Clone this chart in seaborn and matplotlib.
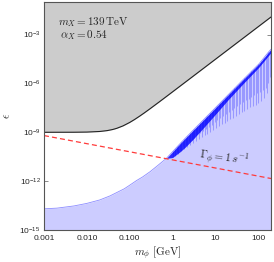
import numpy as np
import pandas as pd
import matplotlib
matplotlib.use("Agg")
import matplotlib.pyplot as plt
import seaborn as sns
from matplotlib.ticker import FixedLocator, FixedFormatter, LogLocator, NullLocator, NullFormatter

# ---- data ----
excl_m = [0.001, 0.005, 0.01, 0.02, 0.03, 0.04, 0.05, 0.07, 0.1, 0.13, 0.17, 0.22, 0.3,
          0.5, 0.7, 1.0, 3.0, 10.0, 100.0, 200.0]
excl_eps = [1.0e-9, 1.007e-9, 1.03e-9, 1.12e-9, 1.27e-9, 1.48e-9, 1.75e-9, 2.47e-9, 4.0e-9,
            6.07e-9, 9.67e-9, 1.55e-8, 2.8e-8, 7.6e-8, 1.48e-7, 3.01e-7, 2.7e-6, 3.0e-5,
            3.0e-3, 1.2e-2]

blue_m = [0.001, 0.002, 0.005, 0.01, 0.02, 0.035, 0.05, 0.075, 0.1, 0.146, 0.2, 0.3, 0.45,
          0.72, 1.0, 1.5, 2.0, 3.0, 10.4, 43.0, 105.0, 174.0, 200.0]
blue_eps = [2.0e-14, 2.2e-14, 3.0e-14, 4.3e-14, 7.0e-14, 1.25e-13, 2.0e-13, 3.4e-13, 5.6e-13,
            1.1e-12, 1.8e-12, 3.8e-12, 9.0e-12, 2.5e-11, 6.3e-11, 2.0e-10, 4.4e-10, 1.3e-9,
            3.5e-8, 1.55e-6, 1.6e-5, 8.3e-5, 1.25e-4]

band_m = [0.72, 1.0, 1.5, 2.0, 3.0, 5.0, 10.4, 20.0, 43.0, 105.0, 200.0]
band_depth = [0.0, 0.35, 0.5, 0.55, 0.55, 0.5, 0.4, 0.3, 0.25, 0.2, 0.2]

spike_m = [1.05, 1.15, 1.25, 1.35, 1.48, 1.6, 1.75, 1.9, 2.05, 2.2, 2.4, 2.6, 2.8, 3.0,
           3.25, 3.5, 3.8, 4.1, 4.4, 4.8, 5.2, 5.6, 6.0, 6.5, 7.0, 7.6, 8.2, 8.9, 9.6,
           10.4, 11.2, 12.1, 13.1, 14.2, 15.3, 16.5, 17.8, 19.2, 20.7, 22.3, 24.0, 26.0,
           28.0, 30.2, 32.6, 35.2, 38.0, 41.0, 44.2, 47.7, 51.5, 55.6, 60.0, 64.7, 69.8,
           75.3, 81.3, 87.7, 94.6, 102.0, 110.0, 119.0, 128.0, 138.0, 149.0, 161.0, 174.0, 188.0]
spike_depth = [0.35, 0.45, 0.3, 0.5, 0.4, 0.55, 0.35, 0.6, 0.45, 0.65, 0.4, 0.7, 0.5, 0.75,
               0.55, 0.8, 0.5, 0.9, 0.6, 0.95, 0.65, 1.0, 0.7, 1.1, 0.75, 1.15, 0.8, 1.2, 0.85,
               1.3, 0.9, 1.35, 0.95, 1.4, 1.0, 1.5, 1.05, 1.55, 1.1, 1.6, 1.15, 1.7,
               1.2, 1.75, 1.25, 1.85, 1.3, 1.9, 1.35, 2.0, 1.4, 2.05, 1.5, 2.1, 1.55,
               2.2, 1.6, 2.3, 1.7, 2.4, 1.8, 2.45, 1.9, 2.5, 2.0, 2.4, 1.9, 1.6]

life_m = [0.001, 200.0]
life_eps = [6.3e-10, 1.45e-12]

xticks = [0.001, 0.01, 0.1, 1, 10, 100]
xticklabels = ["0.001", "0.010", "0.100", "1", "10", "100"]
yticks = [1e-15, 1e-12, 1e-9, 1e-6, 1e-3]
yticklabels = [r"$10^{-15}$", r"$10^{-12}$", r"$10^{-9}$", r"$10^{-6}$", r"$10^{-3}$"]

# ---- style ----
sns.set_theme(style="ticks")
plt.rcParams.update({
    "font.family": ["Liberation Sans", "DejaVu Sans"],
    "mathtext.fontset": "custom",
    "mathtext.rm": "Liberation Sans",
    "mathtext.it": "Liberation Sans:italic",
    "mathtext.bf": "Liberation Sans:bold",
})

fig = plt.figure(figsize=(2.74, 2.62), dpi=100)
ax = fig.add_axes([44 / 274, 1 - 230 / 262, 227 / 274, 228 / 262])
ax.set_xscale("log")
ax.set_yscale("log")
ax.set_xlim(0.001, 200)
ax.set_ylim(1e-15, 1e-1)

# excluded (grey) region
ax.fill_between(excl_m, excl_eps, 1e-1, color="#cccccc", lw=0, zorder=1)
sns.lineplot(x=excl_m, y=excl_eps, ax=ax, color="#222222", lw=0.8, sort=False, zorder=3)

# blue region
ax.fill_between(blue_m, 1e-15, blue_eps, color="#ccccff", lw=0, zorder=1)
sns.lineplot(x=blue_m, y=blue_eps, ax=ax, color="#8c8cff", lw=0.6, sort=False, zorder=2)

lb = np.log10(blue_m)
le = np.log10(blue_eps)
band_top = 10 ** np.interp(np.log10(band_m), lb, le)
band_low = band_top / 10 ** np.array(band_depth)
ax.fill_between(band_m, band_low, band_top, color="#0000ff", alpha=0.8, lw=0, zorder=2)

spike_top = 10 ** np.interp(np.log10(spike_m), lb, le)
spike_low = spike_top / 10 ** np.array(spike_depth)
ax.vlines(spike_m, spike_low, spike_top, color="#0000ff", lw=0.45, alpha=0.4, zorder=2)

# lifetime line
sns.lineplot(x=life_m, y=life_eps, ax=ax, color="#ff3b3b", lw=0.9, zorder=3)
ax.lines[-1].set_dashes((4, 2.5))

# texts
ax.text(0.062, 0.912, r"$m_X = 139\,\mathrm{TeV}$", transform=ax.transAxes,
        fontsize=8, va="center", ha="left", math_fontfamily="cm")
ax.text(0.07, 0.855, r"$\alpha_X = 0.54$", transform=ax.transAxes,
        fontsize=8, va="center", ha="left", math_fontfamily="cm")
ax.text(16, 2.3e-11, r"$\Gamma_\phi = 1\,s^{-1}$", fontsize=8, ha="center", va="center",
        rotation=-8, math_fontfamily="cm")

ax.set_xlabel(r"$m_\phi\ [\mathrm{GeV}]$", fontsize=8, math_fontfamily="cm", labelpad=2)
ax.set_ylabel(r"$\epsilon$", fontsize=8, math_fontfamily="cm", labelpad=5)

# ticks
ax.xaxis.set_major_locator(FixedLocator(xticks))
ax.xaxis.set_major_formatter(FixedFormatter(xticklabels))
ax.xaxis.set_minor_locator(LogLocator(base=10, subs=np.arange(2, 10), numticks=20))
ax.xaxis.set_minor_formatter(NullFormatter())
ax.yaxis.set_major_locator(FixedLocator(yticks))
ax.yaxis.set_major_formatter(FixedFormatter(yticklabels))
ax.yaxis.set_minor_locator(NullLocator())
ax.tick_params(which="both", direction="in", top=True, right=True, color="#777777",
               labelsize=6, width=0.6)
ax.tick_params(axis="x", pad=3.5)
ax.tick_params(axis="y", pad=2.5)
ax.tick_params(which="major", length=3)
ax.tick_params(which="minor", length=1.5)
for s in ax.spines.values():
    s.set_color("#555555")
    s.set_linewidth(0.8)
    s.set_zorder(5)

fig.savefig("out.png", dpi=100)
